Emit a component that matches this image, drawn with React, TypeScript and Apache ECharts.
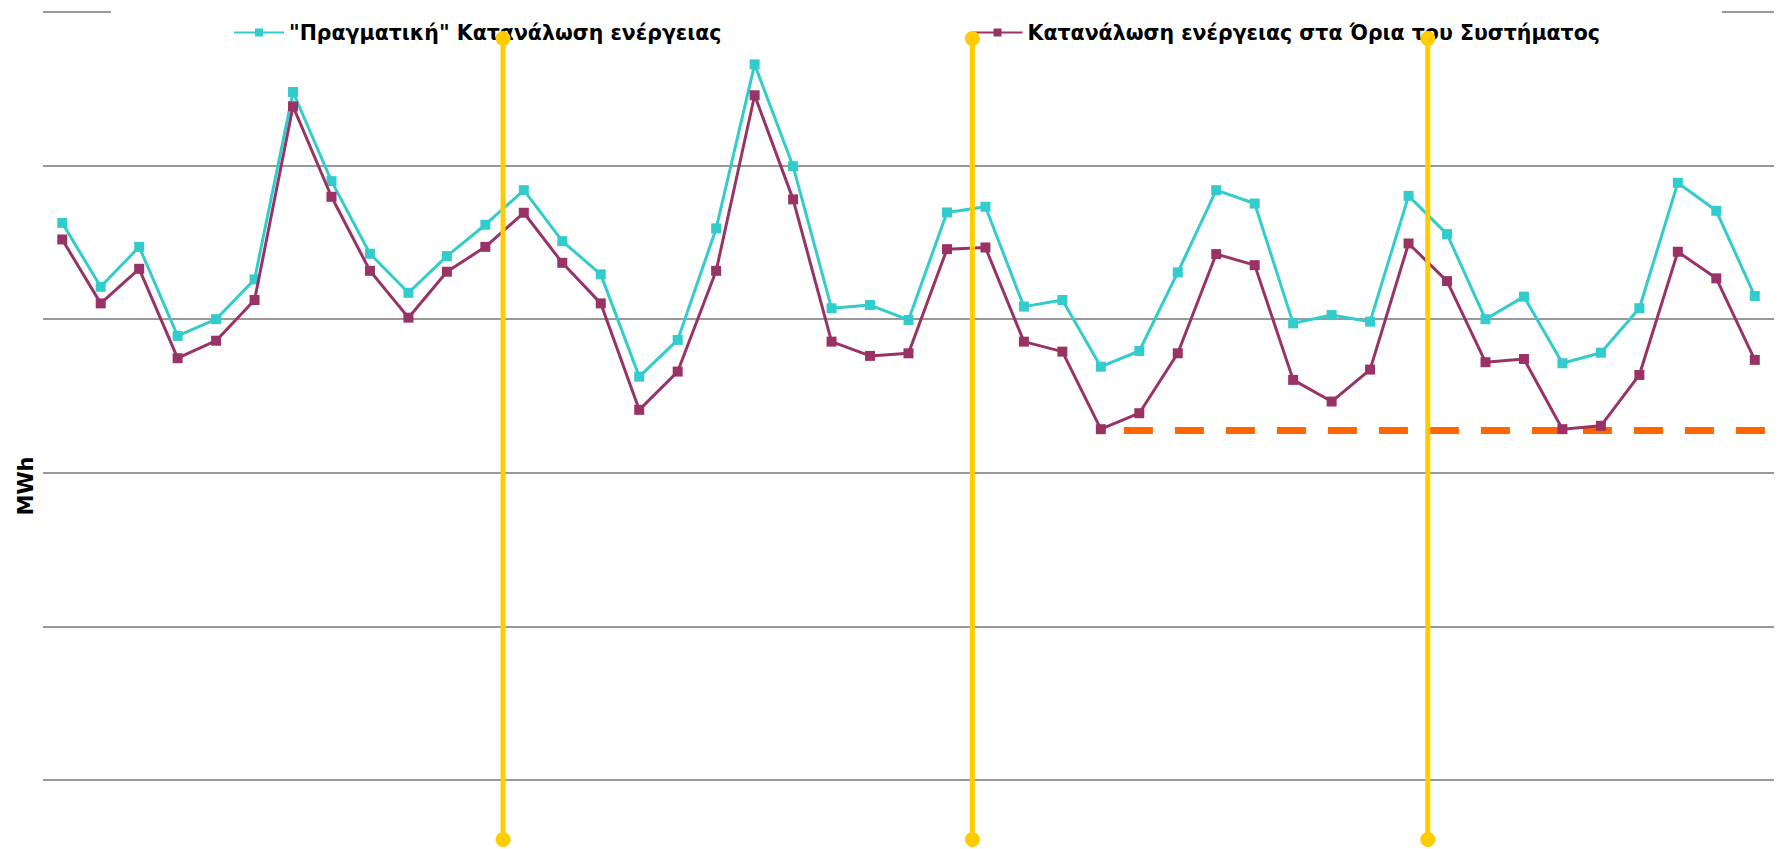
import React, { useEffect, useRef } from "react";
import * as echarts from "echarts";

const actualName = '"Πραγματική" Κατανάλωση ενέργειας';
const systemName = "Κατανάλωση ενέργειας στα Όρια του Συστήματος";
const yAxisName = "MWh";

const actualConsumption = [
  3627, 3211, 3471, 2891, 3000, 3259, 4479, 3899, 3426, 3172, 3411, 3615,
  3840, 3508, 3292, 2626, 2865, 3591, 4659, 3996, 3071, 3092, 2995, 3695,
  3732, 3082, 3125, 2691, 2793, 3305, 3840, 3753, 2973, 3027, 2984, 3803,
  3554, 3000, 3147, 2713, 2782, 3071, 3888, 3706, 3151,
];
const systemConsumption = [
  3519, 3103, 3328, 2746, 2860, 3125, 4386, 3797, 3315, 3010, 3309, 3471,
  3693, 3367, 3103, 2410, 2659, 3315, 4458, 3780, 2854, 2761, 2778, 3456,
  3467, 2854, 2789, 2284, 2388, 2778, 3424, 3352, 2605, 2464, 2672, 3493,
  3248, 2720, 2741, 2284, 2306, 2637, 3439, 3266, 2735,
];

// vertical period separators (positions on the period index axis)
const periodMarkers = [11.46, 23.66, 35.5];
const markerTop = 4828;
const markerBottom = -387;

// horizontal dashed reference level
const thresholdValue = 2275;
const thresholdFrom = 27.6;
const thresholdTo = 44.45;

const yMin = 0;
const yMax = 5000;
const yInterval = 1000;

export default function App() {
  const ref = useRef<HTMLDivElement>(null);
  useEffect(() => {
    if (!ref.current) return;
    const chart = echarts.init(ref.current, undefined, { renderer: "svg" });
    const font = "DejaVu Sans";
    const series: any[] = [
      {
        name: "threshold",
        type: "line",
        data: [
          [thresholdFrom, thresholdValue],
          [thresholdTo, thresholdValue],
        ],
        symbol: "none",
        silent: true,
        z: 2,
        lineStyle: { color: "#FF6600", width: 7, type: [29, 22], cap: "butt" },
      },
      {
        name: actualName,
        type: "line",
        data: actualConsumption.map((v, i) => [i, v]),
        symbol: "rect",
        symbolSize: 10,
        z: 3,
        lineStyle: { color: "#33CCCC", width: 3 },
        itemStyle: { color: "#33CCCC" },
      },
      {
        name: systemName,
        type: "line",
        data: systemConsumption.map((v, i) => [i, v]),
        symbol: "rect",
        symbolSize: 10,
        z: 4,
        lineStyle: { color: "#993366", width: 3 },
        itemStyle: { color: "#993366" },
      },
      ...periodMarkers.map((x, k) => ({
        name: "period" + k,
        type: "line",
        data: [
          [x, markerTop],
          [x, markerBottom],
        ],
        symbol: "circle",
        symbolSize: 15,
        clip: false,
        silent: true,
        z: 10,
        lineStyle: { color: "#FFCC00", width: 5 },
        itemStyle: { color: "#FFCC00" },
      })),
    ];
    chart.setOption({
      animation: false,
      textStyle: { fontFamily: font },
      grid: { left: 43, right: 15, top: 12, bottom: 69, outerBoundsMode: "none" },
      legend: {
        data: [actualName, systemName],
        left: 111,
        top: 0,
        padding: [22, 122, 4, 122],
        backgroundColor: "#ffffff",
        itemWidth: 50,
        itemHeight: 10,
        itemGap: 250,
        textStyle: { fontFamily: font, fontSize: 20.5, fontWeight: "bold", color: "#000" },
      },
      xAxis: {
        type: "value",
        min: -0.5,
        max: 44.5,
        show: false,
      },
      yAxis: {
        type: "value",
        min: yMin,
        max: yMax,
        interval: yInterval,
        name: yAxisName,
        nameLocation: "middle",
        nameGap: 7,
        nameTextStyle: {
          fontFamily: font,
          fontSize: 21,
          fontWeight: "bold",
          color: "#000",
          padding: [0, 180, 0, 0],
        },
        axisLine: { show: false },
        axisTick: { show: false },
        axisLabel: { show: false },
        splitLine: { show: true, lineStyle: { color: "#999999", width: 2 } },
      },
      series,
    });
    return () => chart.dispose();
  }, []);
  return (
    <div
      ref={ref}
      style={{ position: "fixed", left: 0, top: 0, width: 1789, height: 849, background: "#fff" }}
    />
  );
}
